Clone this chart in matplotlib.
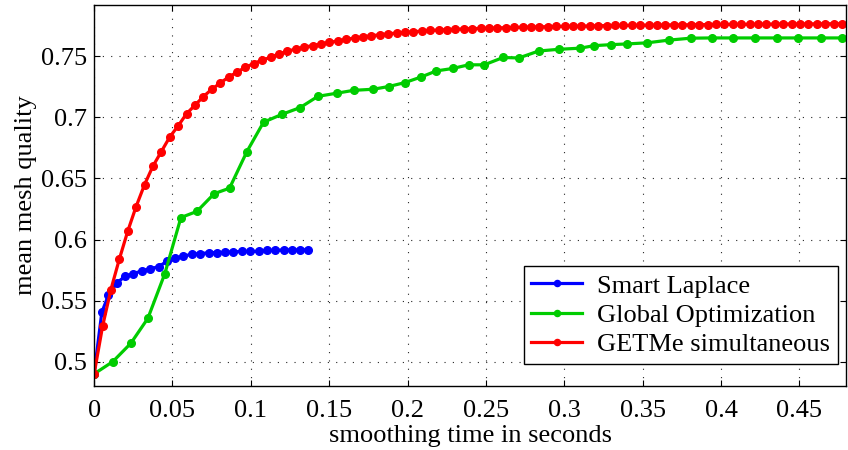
import matplotlib
matplotlib.use("Agg")
import matplotlib.pyplot as plt

# smoothing time (s) and mean mesh quality per iteration
t_laplace = [0.0, 0.0049, 0.0091, 0.0145, 0.0198, 0.0251, 0.0305, 0.0358, 0.0411,
             0.0464, 0.0517, 0.0570, 0.0623, 0.0677, 0.0730, 0.0783, 0.0836, 0.0889,
             0.0943, 0.0996, 0.1049, 0.1102, 0.1155, 0.1209, 0.1262, 0.1315, 0.1368]
q_laplace = [0.490, 0.5404, 0.5543, 0.5645, 0.5699, 0.5721, 0.5743, 0.5762, 0.5776,
             0.5822, 0.5847, 0.5863, 0.5880, 0.5885, 0.5891, 0.5893, 0.5896, 0.5899,
             0.5902, 0.5902, 0.5904, 0.5910, 0.5912, 0.5914, 0.5915, 0.5915, 0.5916]

t_global = [0.0, 0.0119, 0.0234, 0.0343, 0.0451, 0.0554, 0.0656, 0.0766, 0.0864,
            0.0975, 0.1081, 0.1199, 0.1315, 0.1428, 0.1550, 0.1656, 0.1780, 0.1879,
            0.1982, 0.2086, 0.2184, 0.2288, 0.2390, 0.2490, 0.2610, 0.2710, 0.2837,
            0.2965, 0.3100, 0.3192, 0.3298, 0.3402, 0.3529, 0.3667, 0.3806, 0.3944,
            0.4079, 0.4215, 0.4355, 0.4491, 0.4636, 0.4775]
q_global = [0.490, 0.500, 0.515, 0.5355, 0.572, 0.618, 0.623, 0.6375, 0.642,
            0.672, 0.696, 0.7025, 0.708, 0.7172, 0.7198, 0.7221, 0.723, 0.7252,
            0.7284, 0.733, 0.738, 0.740, 0.743, 0.743, 0.749, 0.7486, 0.7543,
            0.7557, 0.7566, 0.7587, 0.7595, 0.7601, 0.7610, 0.7632, 0.7648, 0.7650,
            0.7650, 0.7650, 0.7650, 0.7650, 0.7650, 0.7650]

t_getme = [0.0, 0.0054, 0.0107, 0.0161, 0.0215, 0.0268, 0.0322, 0.0375, 0.0429, 0.0483,
           0.0536, 0.0590, 0.0644, 0.0697, 0.0751, 0.0804, 0.0858, 0.0912, 0.0965, 0.1019,
           0.1073, 0.1126, 0.1180, 0.1233, 0.1287, 0.1341, 0.1394, 0.1448, 0.1502, 0.1555,
           0.1609, 0.1662, 0.1716, 0.1770, 0.1823, 0.1877, 0.1931, 0.1984, 0.2038, 0.2091,
           0.2145, 0.2199, 0.2252, 0.2306, 0.2360, 0.2413, 0.2467, 0.2520, 0.2574, 0.2628,
           0.2681, 0.2735, 0.2789, 0.2842, 0.2896, 0.2949, 0.3003, 0.3057, 0.3110, 0.3164,
           0.3218, 0.3271, 0.3325, 0.3378, 0.3432, 0.3486, 0.3539, 0.3593, 0.3646, 0.3700,
           0.3754, 0.3807, 0.3861, 0.3915, 0.3968, 0.4022, 0.4075, 0.4129, 0.4183, 0.4236,
           0.4290, 0.4344, 0.4397, 0.4451, 0.4504, 0.4558, 0.4612, 0.4665, 0.4719, 0.4772]
q_getme = [0.490, 0.529, 0.559, 0.584, 0.607, 0.627, 0.645, 0.660, 0.672, 0.684,
           0.693, 0.703, 0.710, 0.717, 0.723, 0.728, 0.733, 0.737, 0.741, 0.744,
           0.747, 0.749, 0.752, 0.754, 0.756, 0.7574, 0.7588, 0.7601, 0.7613, 0.7626,
           0.7638, 0.7650, 0.7660, 0.7668, 0.7676, 0.7684, 0.7690, 0.7696, 0.7701, 0.7706,
           0.7711, 0.7715, 0.7718, 0.7721, 0.7724, 0.7726, 0.7728, 0.7730, 0.7732, 0.7734,
           0.7736, 0.7738, 0.7739, 0.7741, 0.7742, 0.7744, 0.7745, 0.7746, 0.7747, 0.7748,
           0.7750, 0.7751, 0.7752, 0.7752, 0.7753, 0.7754, 0.7755, 0.7755, 0.7756, 0.7757,
           0.7757, 0.7758, 0.7759, 0.7759, 0.7760, 0.7760, 0.7761, 0.7761, 0.7762, 0.7762,
           0.7763, 0.7763, 0.7764, 0.7764, 0.7764, 0.7765, 0.7765, 0.7766, 0.7766, 0.7766]

x_ticks = [0, 0.05, 0.1, 0.15, 0.2, 0.25, 0.3, 0.35, 0.4, 0.45]
x_ticklabels = ["0", "0.05", "0.1", "0.15", "0.2", "0.25", "0.3", "0.35", "0.4", "0.45"]
y_ticks = [0.5, 0.55, 0.6, 0.65, 0.7, 0.75]
y_ticklabels = ["0.5", "0.55", "0.6", "0.65", "0.7", "0.75"]

plt.rcParams["font.family"] = ["Liberation Serif", "DejaVu Serif"]
fs = 19

fig = plt.figure(figsize=(8.48, 4.5), dpi=100)
ax = fig.add_axes([0.111, 0.142, 0.887, 0.847])

style = dict(linewidth=2.3, marker="o", markersize=5.5)
ax.plot(t_laplace, q_laplace, color="#0000ff", label="Smart Laplace", **style)
ax.plot(t_global, q_global, color="#00cc00", label="Global Optimization", **style)
ax.plot(t_getme, q_getme, color="#ff0000", label="GETMe simultaneous", **style)

ax.set_xlim(0, 0.48)
ax.set_ylim(0.48, 0.792)
ax.set_xticks(x_ticks)
ax.set_xticklabels(x_ticklabels)
ax.set_yticks(y_ticks)
ax.set_yticklabels(y_ticklabels)
ax.tick_params(direction="in", length=4, width=0.8, top=True, right=True,
               labelsize=fs)
ax.tick_params(axis="x", pad=10)
ax.tick_params(axis="y", pad=5)
ax.grid(True, color="0.15", linestyle=(0, (1, 6.5)), linewidth=0.8)
for sp in ax.spines.values():
    sp.set_linewidth(1.0)

ax.set_xlabel("smoothing time in seconds", fontsize=fs, labelpad=2)
ax.set_ylabel("mean mesh quality", fontsize=fs, labelpad=3)

leg = ax.legend(loc="lower right", bbox_to_anchor=(0.9894, 0.0577), borderaxespad=0,
                fontsize=fs, fancybox=False, framealpha=1, edgecolor="black",
                handlelength=1.9, handletextpad=0.6, labelspacing=0.22,
                borderpad=0.3, markerscale=0.8)
leg.get_frame().set_linewidth(1.0)

fig.savefig("out.png", dpi=100)
